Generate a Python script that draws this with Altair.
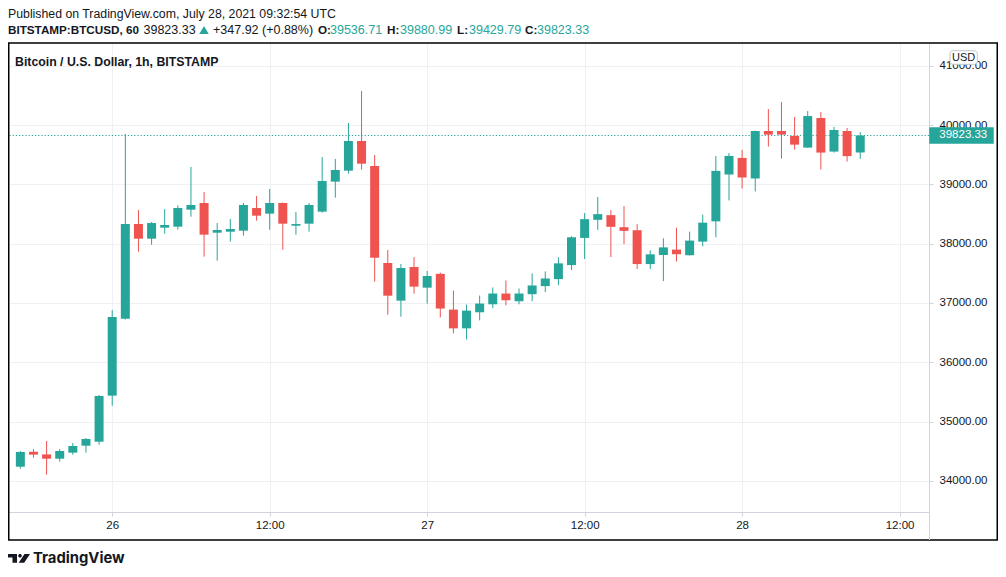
import altair as alt
import pandas as pd

# ---------------- data ----------------
start_time = "2021-07-25 17:00"
opens = [34238, 34490, 34445, 34373, 34475, 34592, 34660, 35436, 36734, 38331,
         38083, 38269, 38286, 38572, 38685, 38184, 38201, 38218, 38600, 38505,
         38685, 38302, 38336, 38539, 39045, 39230, 39730, 39309, 37673, 37038,
         37606, 37257, 37490, 36887, 36571, 36842, 36977, 37158, 37028, 37147,
         37283, 37401, 37638, 38096, 38401, 38480, 38277, 38226, 37655, 37808,
         37899, 37804, 38034, 38375, 39165, 39445, 39098, 39899, 39899, 39815,
         39619, 40118, 39552, 39899, 39536.71]
highs = [34503, 34536, 34671, 34536, 34638, 34722, 35447, 36880, 39848, 38567,
         38364, 38584, 38645, 39292, 38870, 38347, 38415, 38685, 38803, 38921,
         38695, 38533, 38685, 39460, 39427, 40034, 40573, 39494, 37892, 37656,
         37774, 37538, 37510, 37209, 36972, 37124, 37260, 37378, 37243, 37497,
         37531, 37768, 38124, 38514, 38785, 38565, 38633, 38328, 37887, 38090,
         38269, 38202, 38487, 39479, 39529, 39580, 39905, 40269, 40387, 40134,
         40235, 40218, 39966, 39950, 39880.99]
lows = [34205, 34390, 34104, 34323, 34441, 34475, 34609, 35267, 36720, 37864,
        37982, 38168, 38235, 38454, 37780, 37712, 38033, 38134, 38387, 38235,
        37898, 38151, 38201, 38522, 38775, 39179, 39247, 37358, 36801, 36768,
        37156, 36987, 36755, 36486, 36384, 36706, 36910, 36960, 36977, 37028,
        37181, 37299, 37554, 37740, 38232, 37774, 37994, 37571, 37571, 37367,
        37698, 37800, 37955, 38107, 38728, 38930, 38880, 39636, 39434, 39585,
        39615, 39249, 39535, 39384, 39429.79]
closes = [34486, 34441, 34373, 34503, 34587, 34705, 35430, 36762, 38331, 38083,
          38347, 38314, 38600, 38651, 38151, 38229, 38246, 38651, 38471, 38685,
          38336, 38330, 38651, 39056, 39241, 39730, 39348, 37763, 37122, 37589,
          37274, 37454, 36905, 36571, 36870, 36989, 37158, 37045, 37158, 37294,
          37412, 37667, 38107, 38412, 38497, 38283, 38215, 37655, 37819, 37936,
          37821, 38051, 38353, 39227, 39479, 39115, 39899, 39838, 39838, 39669,
          40151, 39535, 39916, 39475.41, 39823.33]

price_ticks = [34000, 35000, 36000, 37000, 38000, 39000, 40000, 41000]
published_text = "Published on TradingView.com, July 28, 2021 09:32:54 UTC"
symbol_text = "BITSTAMP:BTCUSD, 60"
chart_title = "Bitcoin / U.S. Dollar, 1h, BITSTAMP"
currency = "USD"
brand = "TradingView"

times = pd.date_range(start_time, periods=len(opens), freq="h", tz="UTC")
df = pd.DataFrame({
    "t": times.strftime("%Y-%m-%dT%H:%M:%SZ"),
    "o": opens, "h": highs, "l": lows, "c": closes,
})
df["dir"] = ["up" if c >= o else "down" for o, c in zip(opens, closes)]
last = pd.DataFrame({"p": [closes[-1]]})

chg = closes[-1] - closes[-2]
pct = chg / closes[-2] * 100

# ---------------- style ----------------
FONT = "Liberation Sans"
TEAL = "#26a69a"
RED = "#ef5350"
TXT = "#131722"
GRID = "#eef0f3"
AXC = "#d1d4dc"
W, H = 921, 469


def dt(d, h, m=0, s=0):
    return alt.DateTime(year=2021, month=7, date=d, hours=h, minutes=m, seconds=s, utc=True)


X_SCALE = alt.Scale(type="utc", domain=[dt(25, 16, 26, 24), dt(28, 13, 51, 36)])
Y_SCALE = alt.Scale(domain=[33474, 41383], nice=False, zero=False)

X_AXIS = alt.Axis(
    values=[dt(26, 0), dt(26, 12), dt(27, 0), dt(27, 12), dt(28, 0), dt(28, 12)],
    labelExpr="utchours(datum.value) == 0 ? utcFormat(datum.value, '%d') : utcFormat(datum.value, '%H:%M')",
    grid=True, gridColor=GRID, domainColor=AXC, tickColor=AXC, tickSize=4,
    labelPadding=3, labelFont=FONT, labelFontSize=11.5, labelColor=TXT,
    labelFlush=False, labelOverlap=False, title=None,
)
Y_AXIS = alt.Axis(
    orient="right", values=price_ticks, format=".2f",
    grid=True, gridColor=GRID, domainColor=AXC, tickColor=AXC, tickSize=4,
    labelPadding=6, labelFont=FONT, labelFontSize=11.5, labelColor=TXT,
    labelFlush=False, title=None,
)


def X(f):
    return alt.X(f, scale=X_SCALE, axis=X_AXIS, title=None)


def Y(f):
    return alt.Y(f, scale=Y_SCALE, axis=Y_AXIS, title=None)


color = alt.Color("dir:N", scale=alt.Scale(domain=["up", "down"], range=[TEAL, RED]), legend=None)

base = alt.Chart(df)
wicks = base.mark_rule(strokeWidth=1).encode(x=X("t:T"), y=Y("l:Q"), y2="h:Q", color=color)
bodies = base.mark_bar(size=9).encode(x=X("t:T"), y=Y("o:Q"), y2="c:Q", color=color)

price_line = alt.Chart(last).mark_rule(color=TEAL, strokeWidth=1.2, strokeDash=[1.2, 2]).encode(y=Y("p:Q"))
price_box = alt.Chart(last).mark_tick(orient="horizontal", size=64.5, thickness=16.7, color=TEAL, opacity=1).encode(
    y=Y("p:Q"), x=alt.value(953.5))
price_txt = alt.Chart(last).mark_text(align="left", baseline="middle", font=FONT, fontSize=11.5, color="white").encode(
    y=Y("p:Q"), x=alt.value(931.3), text=alt.Text("p:Q", format=".2f"))

one = pd.DataFrame({"k": [0]})
frame = alt.Chart(one).mark_rect(fillOpacity=0, stroke="#000000", strokeWidth=1.5).encode(
    x=alt.value(0.75), x2=alt.value(989.25), y=alt.value(0), y2=alt.value(497))
sep = alt.Chart(one).mark_rule(color=AXC, strokeWidth=1).encode(
    x=alt.value(W + 0.5), y=alt.value(H), y2=alt.value(497))
usd_box = alt.Chart(one).mark_rect(fill="white", stroke="#c3c6ce", strokeWidth=1, cornerRadius=3).encode(
    x=alt.value(942), x2=alt.value(969.3), y=alt.value(7.7), y2=alt.value(21.3))


def label(text, x, y, size=12.5, weight="normal", col=TXT, align="left", font=FONT, baseline="middle"):
    return alt.Chart(pd.DataFrame({"s": [text]})).mark_text(
        align=align, baseline=baseline, fontSize=size, fontWeight=weight, color=col, font=font
    ).encode(text="s:N", x=alt.value(x), y=alt.value(y))


texts = [
    label(published_text, 0, -29, size=12.3),
    label(symbol_text, 0, -13, size=11.7, weight="bold"),
    label(f"{closes[-1]:.2f}", 135.5, -13),
    label(f"{chg:+.2f} ({pct:+.2f}%)", 205, -13),
    label("O:", 310, -13, size=11.7, weight="bold"),
    label(f"{opens[-1]:.2f}", 322, -13, col=TEAL),
    label("H:", 379, -13, size=11.7, weight="bold"),
    label(f"{highs[-1]:.2f}", 392, -13, col=TEAL),
    label("L:", 449, -13, size=11.7, weight="bold"),
    label(f"{lows[-1]:.2f}", 461, -13, col=TEAL),
    label("C:", 517, -13, size=11.7, weight="bold"),
    label(f"{closes[-1]:.2f}", 529, -13, col=TEAL),
    label(chart_title, 7, 18.7, size=12.3, weight="bold"),
    label(currency, 955.7, 14.8, size=11, align="center"),
    label(brand, 25, 519.7, size=14.8, weight="bold", font="Inter", baseline="alphabetic"),
]

tri = alt.Chart(one).mark_point(shape="triangle-up", filled=True, size=90, color=TEAL, opacity=1).encode(
    x=alt.value(196), y=alt.value(-13))

logo_path = ("M-1,-0.3625 L-0.0833,-0.3625 L-0.0833,0.3625 L-0.4583,0.3625 L-0.4583,-0.0625 L-1,-0.0625 Z "
             "M0.313,-0.1435 L0.227,-0.058 L0.106,-0.058 L0.021,-0.1435 L0.021,-0.2645 L0.106,-0.35 "
             "L0.227,-0.35 L0.313,-0.2645 Z "
             "M0.5417,-0.3625 L1,-0.3625 L0.5167,0.3625 L0.0583,0.3625 Z")
logo = alt.Chart(one).mark_point(shape=logo_path, filled=True, size=576, color=TXT, opacity=1, strokeWidth=0).encode(
    x=alt.value(10), y=alt.value(515.3))

chart = alt.layer(
    price_line, wicks, bodies, price_box, price_txt, frame, sep, usd_box, tri, logo, *texts
).properties(
    width=W, height=H,
    autosize=alt.AutoSizeParams(type="none"),
    padding={"left": 0, "top": 35, "right": 69, "bottom": 56},
    background="white",
).configure_view(strokeWidth=0)

chart.save("out.html", embed_options={"renderer": "svg", "actions": False})
